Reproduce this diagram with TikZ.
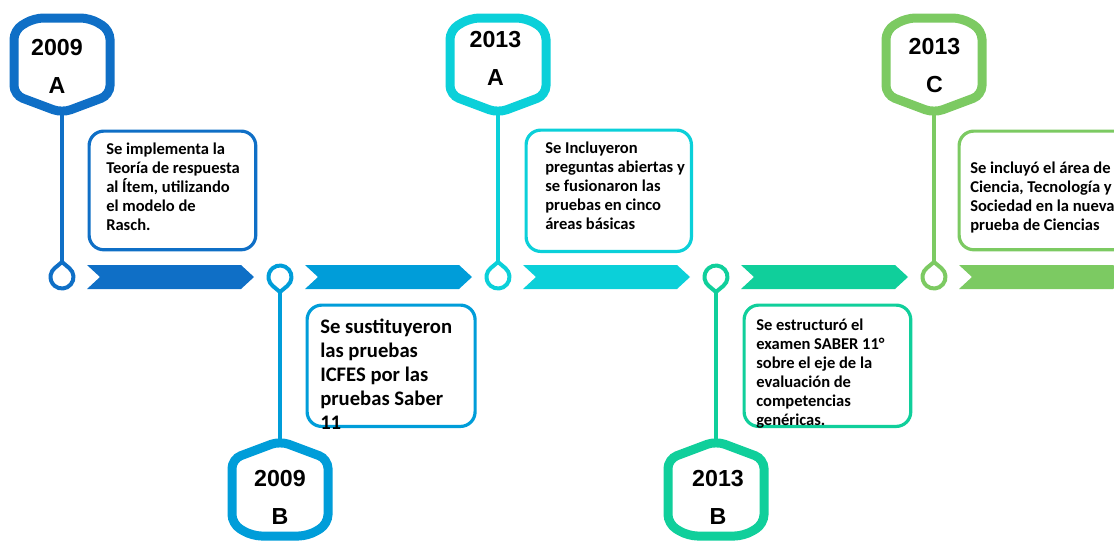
\documentclass[tikz,border=0pt]{standalone}
\usepackage{fontspec}
\setmainfont{Carlito}
\newfontfamily\yearfont{Liberation Sans}
\usetikzlibrary{calc}

\definecolor{blueA}{HTML}{0F6FC6}
\definecolor{blueB}{HTML}{009DD9}
\definecolor{cyanC}{HTML}{0BD0D9}
\definecolor{tealD}{HTML}{10CF9B}
\definecolor{greenE}{HTML}{7CCA62}

\begin{document}
\begin{tikzpicture}[
    x=0.75pt, y=-0.75pt,
    card/.style={draw=#1, line width=2.4pt, rounded corners=11pt, fill=white, anchor=north west, inner sep=0pt},
    note/.style={anchor=base west, inner sep=0pt, font=\bfseries\fontsize{12.4}{14.3}\selectfont},
    year/.style={inner sep=0pt, align=center, font=\yearfont\bfseries\fontsize{17.4}{28.5}\selectfont},
    pennant/.style={draw=#1, line width=6.75pt, fill=white, rounded corners=7pt},
    stem/.style={draw=#1, line width=3pt},
    bar/.style={fill=#1}
]
\useasboundingbox (0,0) rectangle (1114,540);
\clip (0,0) rectangle (1114,540);

% Milestones: circle, stem, pennant and chevron
\foreach \x/\c/\d/\n in {62/blueA/1/1, 280/blueB/-1/2, 498/cyanC/1/3, 716/tealD/-1/4, 934/greenE/1/5}{
  \begin{scope}[shift={(\x,277)}, yscale=\d]
    \fill[bar=\c] (25,-12) -- (179,-12) -- (192,0) -- (179,12) -- (25,12) -- (38,0) -- cycle;
    \coordinate (pen\n) at (0,-164);
    \coordinate (drop\n) at (0,-15);
    \draw[stem=\c] (pen\n) -- (drop\n);
    \draw[pennant=\c] (-48,-182) -- (-48,-247) -- (-28,-259) -- (28,-259) -- (48,-247) -- (48,-182) -- (pen\n) -- cycle;
    \draw[stem=\c, fill=white] (0,0) ++(-50:11.5) arc[start angle=-50, end angle=230, radius=11.5] -- (drop\n) -- cycle;
  \end{scope}
}

% Year labels
\node[year] (year1) at (57,66) {2009\\A};
\node[year] (year2) at (280,497.5) {2009\\B};
\node[year] (year3) at (495.5,58) {2013\\A};
\node[year] (year4) at (718,497.5) {2013\\B};
\node[year] (year5) at (934.5,66) {2013\\C};

% Cards
\node[card=blueA, minimum width=125pt, minimum height=89pt] (card1) at (87.5,129.5) {};
\node[card=blueB, minimum width=126pt, minimum height=91pt] (card2) at (305.5,303.5) {};
\node[card=cyanC, minimum width=124pt, minimum height=91pt] (card3) at (524.5,128.5) {};
\node[card=tealD, minimum width=125pt, minimum height=91pt] (card4) at (742.5,303.5) {};
\node[card=greenE, minimum width=135pt, minimum height=89pt] (card5) at (957.5,129.5) {};

% Card texts
\node[note] (note1) at (106,154) {\parbox[t]{200pt}{Se implementa la\\Teoría de respuesta\\al Ítem, utilizando\\el modelo de\\Rasch.}};
\node[note, font=\bfseries\fontsize{15.5}{18}\selectfont] (note2) at (320,333) {\parbox[t]{200pt}{Se sustituyeron\\las pruebas\\ICFES por las\\pruebas Saber\\11}};
\node[note] (note3) at (545,153) {\parbox[t]{200pt}{Se Incluyeron\\preguntas abiertas y\\se fusionaron las\\pruebas en cinco\\áreas básicas}};
\node[note] (note4) at (756,330) {\parbox[t]{200pt}{Se estructuró el\\examen SABER 11°\\sobre el eje de la\\evaluación de\\competencias\\genéricas.}};
\node[note] (note5) at (970,173) {\parbox[t]{200pt}{Se incluyó el área de\\Ciencia, Tecnología y\\Sociedad en la nueva\\prueba de Ciencias}};

\end{tikzpicture}
\end{document}
